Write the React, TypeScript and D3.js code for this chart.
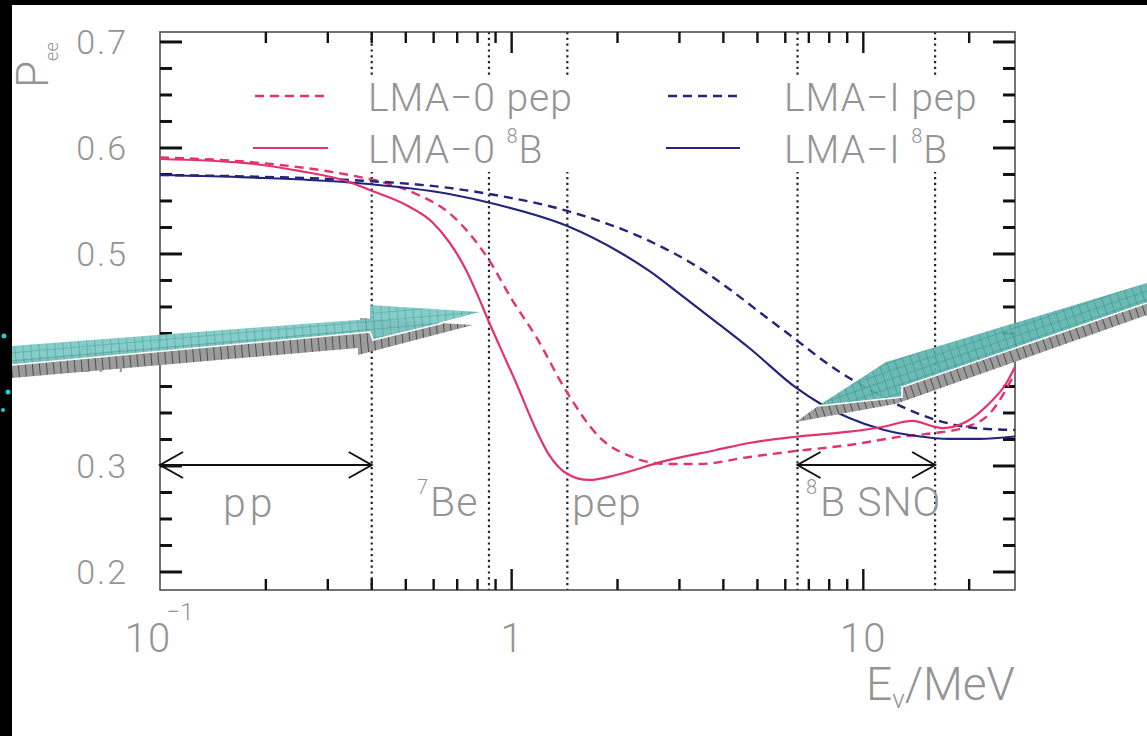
import React from 'react';
import * as d3 from 'd3';

const W = 1147;
const H = 736;

// LMA-0 8B (solid pink)
const lma0B8E = [0.1, 0.179, 0.2485, 0.338, 0.398, 0.501, 0.594, 0.664, 0.742, 0.793, 0.857, 0.921, 1.03, 1.174, 1.278, 1.44, 1.662, 1.983, 2.68, 3.817, 4.74, 6.45, 9.125, 11.33, 13.79, 15.92, 16.78, 19.63, 22.83, 25.5, 27];
const lma0B8P = [0.5896, 0.5854, 0.5784, 0.5689, 0.5599, 0.5462, 0.5302, 0.5113, 0.4849, 0.4642, 0.4377, 0.4142, 0.3783, 0.334, 0.3104, 0.2925, 0.2868, 0.2915, 0.3041, 0.3151, 0.3217, 0.3276, 0.3324, 0.3368, 0.3425, 0.3371, 0.3358, 0.3418, 0.3592, 0.378, 0.3937];

// LMA-0 pep (dashed pink)
const lma0PepE = [0.1, 0.179, 0.345, 0.428, 0.535, 0.664, 0.862, 1.0, 1.174, 1.44, 1.774, 2.2, 2.75, 3.415, 4.74, 6.45, 9.125, 12.66, 15.92, 19.63, 22.83, 27];
const lma0PepP = [0.591, 0.5868, 0.5745, 0.5679, 0.5566, 0.5387, 0.4943, 0.4575, 0.4217, 0.3689, 0.3274, 0.3085, 0.3019, 0.3019, 0.3085, 0.3142, 0.3198, 0.3274, 0.3311, 0.3368, 0.3491, 0.3877];

// LMA-I 8B (solid navy)
const lma1B8E = [0.1, 0.179, 0.345, 0.664, 0.921, 1.44, 2.022, 2.462, 3.055, 3.817, 4.74, 6.45, 7.495, 9.125, 11.33, 14.16, 17.57, 21.38, 27];
const lma1B8P = [0.5745, 0.5722, 0.5675, 0.5566, 0.5462, 0.5264, 0.5019, 0.484, 0.4604, 0.4358, 0.4113, 0.3736, 0.3594, 0.3453, 0.3344, 0.3283, 0.3255, 0.3255, 0.3278];

// LMA-I pep (dashed navy)
const lma1PepE = [0.1, 0.179, 0.345, 0.664, 0.862, 1.44, 2.462, 3.415, 4.157, 5.06, 6.45, 8.0, 9.125, 11.1, 13.52, 15.92, 19.63, 24.37, 27];
const lma1PepP = [0.5745, 0.5731, 0.5698, 0.5623, 0.5566, 0.5406, 0.5123, 0.4868, 0.467, 0.4453, 0.4189, 0.3953, 0.383, 0.367, 0.3528, 0.3439, 0.3368, 0.3344, 0.334];

const regionLines = [0.4, 0.862, 1.44, 6.5, 16];
const yTickValues = [0.2, 0.3, 0.4, 0.5, 0.6, 0.7];
const yTickLabels = ['0.2', '0.3', '0.4', '0.5', '0.6', '0.7'];
const xMajorValues = [0.1, 1, 10];
const legendLabels = ['LMA\u22120 pep', 'LMA\u22120 ', 'LMA\u2212I pep', 'LMA\u2212I '];

const PINK = '#e4326e';
const NAVY = '#24247a';
const TXT = '#949494';
const FONT = "Roboto, 'Liberation Sans', sans-serif";

export default function App() {
  const x = d3.scaleLog().domain([0.1, 27]).range([160, 1015]);
  const y = d3.scaleLinear().domain([0.183, 0.7094]).range([590, 32]);
  const X0 = 160, X1 = 1015, Y0 = 590, Y1 = 32;

  const mk = (E: number[], P: number[]) =>
    d3.line<number>().x((i) => x(E[i])).y((i) => y(P[i])).curve(d3.curveMonotoneX)(E.map((_, i) => i)) || '';

  const xTicks = x.ticks().filter((v) => v > 0.1 && v < 27);
  const yMinor = d3.range(0.2, 0.7001, 0.025);

  const isMajorX = (v: number) => xMajorValues.some((m) => Math.abs(m - v) < 1e-9);
  const isMajorY = (v: number) => yTickValues.some((m) => Math.abs(m - v) < 1e-6);

  const textStyle = { fontFamily: FONT, fontWeight: 300 as const, fill: TXT };

  return (
    <svg width={W} height={H} style={{ position: 'absolute', left: 0, top: 0, display: 'block' }}>
      <defs>
        <pattern id="teal1" width="8" height="8" patternUnits="userSpaceOnUse" patternTransform="rotate(-5)">
          <rect width="8" height="8" fill="#7cc8c4" />
          <path d="M0 0H8M0 0V8" stroke="#3b9893" strokeWidth="1.2" />
        </pattern>
        <pattern id="teal2" width="8" height="8" patternUnits="userSpaceOnUse" patternTransform="rotate(-19)">
          <rect width="8" height="8" fill="#5fb4af" />
          <path d="M0 0H8M0 0V8" stroke="#2a8984" strokeWidth="1.2" />
        </pattern>
        <pattern id="gray1" width="7" height="7" patternUnits="userSpaceOnUse" patternTransform="rotate(-5)">
          <rect width="7" height="7" fill="#9c9c9c" />
          <path d="M0 0V7" stroke="#1a1a1a" strokeWidth="1.2" />
        </pattern>
        <pattern id="gray2" width="7" height="7" patternUnits="userSpaceOnUse" patternTransform="rotate(-19)">
          <rect width="7" height="7" fill="#9c9c9c" />
          <path d="M0 0V7" stroke="#1a1a1a" strokeWidth="1.2" />
        </pattern>
      </defs>

      <rect x={0} y={0} width={W} height={H} fill="#ffffff" />
      <rect x={0} y={0} width={W} height={5} fill="#000" />
      <rect x={0} y={0} width={12} height={H} fill="#000" />
      <circle cx={4} cy={336} r={2.5} fill="#20d0d0" />
      <circle cx={8} cy={392} r={2.5} fill="#20d0d0" />
      <circle cx={3} cy={410} r={2} fill="#20d0d0" />

      {/* region dotted lines */}
      {regionLines.map((v, i) => (
        <line key={'rl' + i} x1={x(v)} x2={x(v)} y1={Y1} y2={Y0} stroke="#222" strokeWidth={2.2} strokeDasharray="2.2,3.6" />
      ))}

      {/* legend white box */}
      <rect x={232} y={75} width={770} height={97} fill="#fff" />

      {/* frame */}
      <rect x={X0} y={Y1} width={X1 - X0} height={Y0 - Y1} fill="none" stroke="#444" strokeWidth={1.5} />

      {/* y ticks */}
      {yMinor.map((v, i) => {
        const len = isMajorY(v) ? 22 : 12;
        const yy = y(v);
        return (
          <g key={'yt' + i}>
            <line x1={X0} x2={X0 + len} y1={yy} y2={yy} stroke="#111" strokeWidth={3} />
            <line x1={X1} x2={X1 - len} y1={yy} y2={yy} stroke="#111" strokeWidth={3} />
          </g>
        );
      })}
      {/* x ticks */}
      {xTicks.map((v, i) => {
        const len = isMajorX(v) ? 21 : 11;
        const xx = x(v);
        return (
          <g key={'xt' + i}>
            <line x1={xx} x2={xx} y1={Y0} y2={Y0 - len} stroke="#111" strokeWidth={2.4} />
            <line x1={xx} x2={xx} y1={Y1} y2={Y1 + len} stroke="#111" strokeWidth={2.4} />
          </g>
        );
      })}

      {/* y tick labels */}
      {yTickValues.map((v, i) => (
        <text key={'yl' + i} x={128} y={y(v) + 12} textAnchor="end" fontSize={34} letterSpacing={2} style={textStyle}>
          {yTickLabels[i]}
        </text>
      ))}

      {/* x tick labels */}
      <text x={x(0.1) - 12} y={652} textAnchor="middle" fontSize={40} letterSpacing={1} style={textStyle}>10</text>
      <text x={x(0.1) + 20} y={620} textAnchor="middle" fontSize={24} style={textStyle}>{'\u22121'}</text>
      <text x={x(1)} y={652} textAnchor="middle" fontSize={40} style={textStyle}>1</text>
      <text x={x(10)} y={652} textAnchor="middle" fontSize={40} letterSpacing={1} style={textStyle}>10</text>

      {/* axis titles */}
      <text x={X1} y={700} textAnchor="end" fontSize={46} style={textStyle}>
        E<tspan fontSize={26} dy={8}>{'\u03bd'}</tspan><tspan dy={-8}>/MeV</tspan>
      </text>
      <text transform="translate(48,88) rotate(-90)" fontSize={44} style={textStyle}>
        P<tspan fontSize={18} dy={10}>ee</tspan>
      </text>

      {/* curves */}
      <path d={mk(lma0PepE, lma0PepP)} fill="none" stroke={PINK} strokeWidth={2.4} strokeDasharray="9,6" />
      <path d={mk(lma1PepE, lma1PepP)} fill="none" stroke={NAVY} strokeWidth={2.4} strokeDasharray="9,6" />
      <path d={mk(lma1B8E, lma1B8P)} fill="none" stroke={NAVY} strokeWidth={2.2} />
      <path d={mk(lma0B8E, lma0B8P)} fill="none" stroke={PINK} strokeWidth={2.2} />

      {/* legend */}
      <line x1={255} x2={330} y1={96} y2={96} stroke={PINK} strokeWidth={2.4} strokeDasharray="9,6" />
      <line x1={253} x2={328} y1={148} y2={148} stroke={PINK} strokeWidth={2.2} />
      <line x1={668} x2={740} y1={96} y2={96} stroke={NAVY} strokeWidth={2.4} strokeDasharray="9,6" />
      <line x1={666} x2={740} y1={148} y2={148} stroke={NAVY} strokeWidth={2.2} />
      <text x={368} y={111} fontSize={39} letterSpacing={1} style={textStyle}>{legendLabels[0]}</text>
      <text x={368} y={163} fontSize={39} letterSpacing={1} style={textStyle}>
        {legendLabels[1]}<tspan fontSize={20} dy={-20}>8</tspan><tspan dy={20}>B</tspan>
      </text>
      <text x={784} y={111} fontSize={39} letterSpacing={1} style={textStyle}>{legendLabels[2]}</text>
      <text x={784} y={163} fontSize={39} letterSpacing={1} style={textStyle}>
        {legendLabels[3]}<tspan fontSize={20} dy={-20}>8</tspan><tspan dy={20}>B</tspan>
      </text>

      {/* region arrows */}
      {[[x(0.1), x(0.4)], [x(6.5), x(16)]].map(([a, b], i) => {
        const yy = 465;
        return (
          <g key={'ar' + i} stroke="#111" strokeWidth={2} fill="none">
            <line x1={a} x2={b} y1={yy} y2={yy} />
            <polyline points={`${a + 23},${yy - 13} ${a},${yy} ${a + 23},${yy + 13}`} />
            <polyline points={`${b - 23},${yy - 13} ${b},${yy} ${b - 23},${yy + 13}`} />
          </g>
        );
      })}

      {/* region labels */}
      <text x={223} y={517} fontSize={41} letterSpacing={4} style={textStyle}>pp</text>
      <text x={417} y={494} fontSize={20} style={textStyle}>7</text>
      <text x={430} y={516} fontSize={41} letterSpacing={1} style={textStyle}>Be</text>
      <text x={572} y={517} fontSize={41} letterSpacing={1} style={textStyle}>pep</text>
      <text x={806} y={494} fontSize={20} style={textStyle}>8</text>
      <text x={820} y={516} fontSize={41} letterSpacing={1} style={textStyle}>B SNO</text>

      {/* decorative arrows */}
      <polygon points="12,360 360,330 360,318 473,325 358,355 358,348 12,378" fill="url(#gray1)" />
      <polygon points="12,346 370,319 370,305 480,312 373,340 370,332 12,365" fill="url(#teal1)" opacity={0.92} />
      <polyline points="12,365 370,332 373,340 443,323" fill="none" stroke="#fff" strokeWidth={1.6} />

      <polygon points="796,422 818,406 902,397 902,387 1147,303 1147,315 910,399 895,404" fill="url(#gray2)" />
      <polygon points="1147,283 893,360 886,362 818,406 902,397 902,387 1147,303" fill="url(#teal2)" opacity={0.92} />
      <polyline points="818,406 902,397 902,387 1147,303" fill="none" stroke="#fff" strokeWidth={1.6} />
    </svg>
  );
}
